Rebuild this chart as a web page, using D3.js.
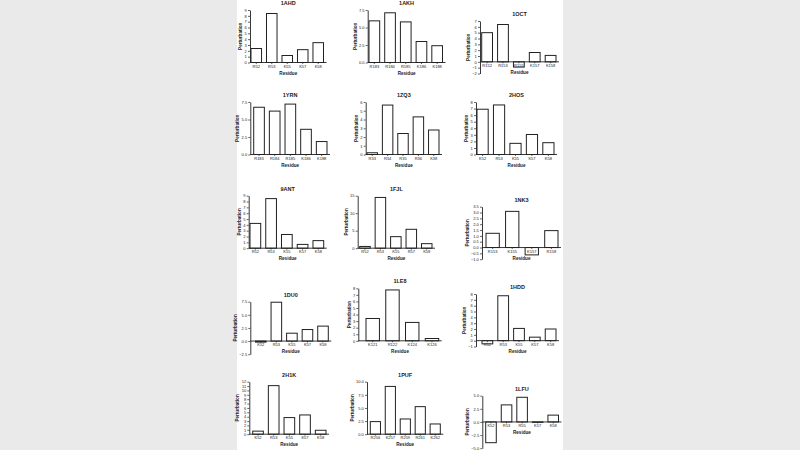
<!DOCTYPE html>
<html><head><meta charset="utf-8">
<script src="https://cdn.jsdelivr.net/npm/d3@7"></script>
<style>html,body{margin:0;padding:0;background:#eaeaea;}svg{display:block;}</style>
</head><body><svg width="800" height="450"></svg>
<script>
// ---------- data ----------
const titles = ["1AHD","1AKH","1OCT","1YRN","1ZQ3","2HOS","9ANT","1FJL","1NK3","1DU0","1LE8","1HDD","2H1K","1PUF","1LFU"];
const categories = [
  ["R52","R53","K55","K57","K58"],
  ["R183","R184","R185","K186","K188"],
  ["R152","R153","R155","K157","K158"],
  ["R183","R184","R185","K186","K188"],
  ["R33","R34","R35","R36","K38"],
  ["K52","R53","K55","K57","K58"],
  ["R52","R53","K55","K57","K58"],
  ["R52","R53","K55","R57","K58"],
  ["R153","K155","K157","R158"],
  ["K52","R53","K55","K57","K58"],
  ["K121","R122","K124","K126"],
  ["R52","R53","K55","K57","K58"],
  ["K52","R53","K55","K57","K58"],
  ["R256","K257","R259","R261","K262"],
  ["K52","R53","R55","K57","K58"]
];
const values = [
  [2.4, 8.4, 1.2, 2.2, 3.4],
  [5.95, 7.1, 5.8, 3.0, 2.4],
  [5.0, 6.4, -0.9, 1.6, 1.1],
  [6.75, 6.2, 7.2, 3.6, 1.85],
  [0.2, 5.65, 2.4, 4.3, 2.8],
  [6.9, 7.55, 1.7, 3.05, 1.8],
  [4.25, 8.5, 2.35, 0.65, 1.3],
  [0.5, 14.5, 3.3, 5.4, 1.3],
  [1.22, 3.1, -0.63, 1.45],
  [-0.2, 7.4, 1.5, 2.2, 2.85],
  [3.4, 7.75, 2.8, 0.35],
  [-0.55, 7.7, 2.1, 0.6, 2.0],
  [0.7, 11.1, 3.8, 4.4, 0.9],
  [2.4, 9.1, 2.9, 5.25, 1.95],
  [-3.95, 3.25, 4.7, -0.08, 1.3]
];
const yTicks = [
  [0,1,2,3,4,5,6,7,8,9],
  [0,2.5,5,7.5],
  [-2,-1,0,1,2,3,4,5,6,7],
  [0,2.5,5,7.5],
  [0,1,2,3,4,5,6],
  [0,1,2,3,4,5,6,7,8],
  [0,1,2,3,4,5,6,7,8,9],
  [0,5,10,15],
  [-1,-0.5,0,0.5,1,1.5,2,2.5,3,3.5],
  [-2.5,0,2.5,5,7.5],
  [0,1,2,3,4,5,6,7,8],
  [-1,0,1,2,3,4,5,6,7,8],
  [0,1,2,3,4,5,6,7,8,9,10,11,12],
  [0,2.5,5,7.5,10],
  [-5,-2.5,0,2.5,5]
];
const yDecimals = [0,1,0,1,0,0,0,0,1,1,0,0,0,1,1];
const xTitle = "Residue";
const yTitle = "Perturbation";

// ---------- layout (positions only) ----------
const layout = [
  {ax:250,   top:10,    bx0:251,   bx1:323.5},
  {ax:367.7, top:10,    bx0:369,   bx1:442.5},
  {ax:480,   top:21,    bx0:481.7, bx1:556},
  {ax:250.3, top:102,   bx0:253.7, bx1:327},
  {ax:365.7, top:102,   bx0:367,   bx1:439},
  {ax:476,   top:102,   bx0:477,   bx1:554},
  {ax:248.7, top:195.7, bx0:250,   bx1:323.7},
  {ax:357.7, top:195.7, bx0:359.7, bx1:432},
  {ax:482,   top:206.7, bx0:486,   bx1:558},
  {ax:250.3, top:301.7, bx0:255.5, bx1:328.3},
  {ax:358.3, top:288.3, bx0:366,   bx1:438.7},
  {ax:476,   top:294,   bx0:482,   bx1:556},
  {ax:249.3, top:381.7, bx0:252.7, bx1:326},
  {ax:367,   top:381.7, bx0:370.3, bx1:440.3},
  {ax:482.3, top:395.7, bx0:485.7, bx1:558.5}
];
const H = 52.5;
const FONT = "'Liberation Sans', Arial, sans-serif";
const INK = "#222";

const svg = d3.select("svg");
svg.append("rect").attr("x",237).attr("y",0).attr("width",326).attr("height",450).attr("fill","#fff");

titles.forEach((t,i)=>{
  const L = layout[i];
  const ticks = yTicks[i];
  const y = d3.scaleLinear().domain([d3.min(ticks), d3.max(ticks)]).range([L.top+H, L.top]);
  const x = d3.scaleBand().domain(categories[i]).range([L.bx0, L.bx1]).paddingInner(0.32).paddingOuter(0);
  const fmt = d3.format("." + yDecimals[i] + "f");
  const g = svg.append("g");

  // bars
  g.selectAll("rect.bar").data(values[i]).join("rect")
    .attr("class","bar")
    .attr("x",(d,j)=>x(categories[i][j]))
    .attr("y",d=>y(Math.max(0,d)))
    .attr("width",x.bandwidth())
    .attr("height",d=>Math.max(0.3, Math.abs(y(d)-y(0))))
    .attr("fill","#fff").attr("stroke",INK).attr("stroke-width",1);

  // y axis
  const ya = g.append("g").attr("transform",`translate(${L.ax},0)`)
    .call(d3.axisLeft(y).tickValues(ticks).tickFormat(fmt).tickSize(2).tickSizeOuter(0).tickPadding(1.2));
  ya.selectAll("path").attr("stroke",INK).attr("stroke-width",0.9);
  ya.selectAll("line").attr("stroke",INK).attr("stroke-width",0.7);
  ya.selectAll("text").attr("font-family",FONT).attr("font-size",4).attr("fill",INK);
  let maxW = 0;
  ya.selectAll("text").each(function(){ maxW = Math.max(maxW, this.getComputedTextLength()); });

  // x axis at zero
  const y0 = y(0);
  const xa = g.append("g").attr("transform",`translate(0,${y0})`)
    .call(d3.axisBottom(x).tickSize(1.5).tickSizeOuter(0).tickPadding(0.8));
  xa.select(".domain").remove();
  xa.selectAll("line").attr("stroke",INK).attr("stroke-width",0.7);
  xa.selectAll("text").attr("font-family",FONT).attr("font-size",4).attr("fill",INK);
  g.append("line").attr("x1",L.ax).attr("x2",L.bx1+3).attr("y1",y0).attr("y2",y0)
    .attr("stroke",INK).attr("stroke-width",0.9);

  // titles
  g.append("text").attr("x",(L.ax+L.bx1+3)/2).attr("y",L.top-5)
    .attr("text-anchor","middle").attr("font-family",FONT).attr("font-size",5.5)
    .attr("font-weight","bold").attr("fill",INK).text(t);
  g.append("text").attr("x",(L.ax+L.bx1+3)/2).attr("y",y0+12)
    .attr("text-anchor","middle").attr("font-family",FONT).attr("font-size",4.6)
    .attr("font-weight","bold").attr("fill",INK).text(xTitle);
  const yl = L.ax - maxW - 5.5;
  g.append("text").attr("transform",`translate(${yl},${L.top+H/2}) rotate(-90)`)
    .attr("text-anchor","middle").attr("font-family",FONT).attr("font-size",4.6)
    .attr("font-weight","bold").attr("fill",INK).text(yTitle);
});
</script>
</body></html>
